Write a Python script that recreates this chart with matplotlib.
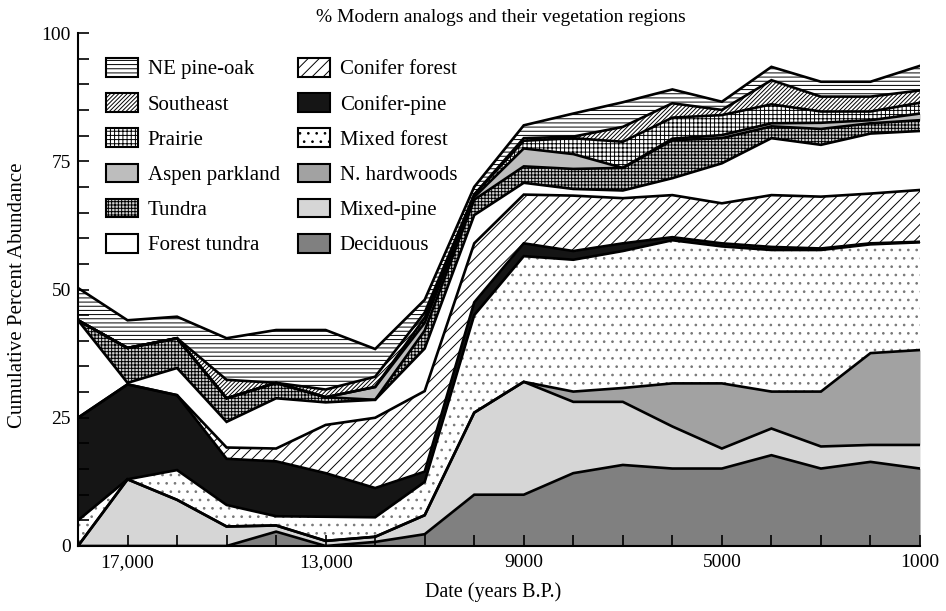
import numpy as np
import matplotlib.pyplot as plt
import matplotlib.patches as mpatches
from matplotlib.ticker import MultipleLocator, FixedLocator

plt.rcParams['font.family'] = ['Liberation Serif', 'DejaVu Serif']
plt.rcParams['hatch.linewidth'] = 0.7

# years B.P., one sample every 1000 years
years = [18000, 17000, 16000, 15000, 14000, 13000, 12000, 11000, 10000,
         9000, 8000, 7000, 6000, 5000, 4000, 3000, 2000, 1000]

# thickness of each band (percent), bottom to top
deciduous     = [0, 0, 0, 0, 2.8, 0, 0.8, 2.3, 10, 10, 14.2, 15.8, 15.1, 15.1, 17.7, 15.1, 16.4, 15.1]
mixed_pine    = [0, 13, 9, 3.8, 1.2, 1, 1, 3.7, 16, 22, 13.9, 12.3, 8.2, 3.9, 5.2, 4.3, 3.3, 4.6]
n_hardwoods   = [0, 0, 0, 0, 0, 0, 0, 0, 0, 0, 2, 2.7, 8.4, 12.7, 7.2, 10.7, 17.9, 18.5]
mixed_forest  = [5, 0, 5.8, 4.2, 1.8, 4.7, 3.8, 6.5, 19, 24.5, 25.7, 26.7, 27.9, 26.7, 27.6, 27.6, 21.2, 21]
conifer_pine  = [20, 18.5, 14.6, 9, 10.7, 8.5, 5.7, 2, 2.5, 2.5, 1.7, 1.5, 0.6, 0.6, 0.6, 0.3, 0.2, 0.1]
conifer_for   = [0, 0, 0, 2.2, 2.5, 9.4, 13.7, 15.7, 11.5, 9.5, 10.8, 8.8, 8.2, 7.8, 10.1, 10.1, 9.7, 10.1]
forest_tundra = [19, 0.3, 5.3, 5, 9.8, 4.4, 3.5, 8.3, 5.5, 2.3, 1.3, 1.5, 3.3, 7.8, 11.1, 10.1, 11.7, 11.5]
tundra        = [0, 6.8, 5.8, 4.6, 3, 1, 0, 3.5, 3, 3.2, 3.9, 4.4, 7.4, 4.9, 2.3, 3.1, 2, 2.1]
aspen         = [0, 0, 0, 0, 0, 0, 2.5, 1.5, 0.5, 3.5, 2.9, 0, 0.3, 0.6, 0.6, 1.2, 0.6, 1.3]
prairie       = [0, 0, 0, 0, 0, 0, 0, 1, 0.5, 1.5, 3.1, 5.1, 4.1, 3.9, 3.7, 2.2, 1.7, 2.1]
southeast     = [0, 0, 0, 3.6, 0, 1.5, 2, 1, 0, 0.5, 0.3, 2.9, 2.8, 1, 4.7, 2.9, 2.9, 2.4]
ne_pine_oak   = [6.3, 5.4, 4.2, 8.1, 10.3, 11.6, 5.4, 2.5, 1.5, 2.5, 4.5, 4.8, 2.7, 1.6, 2.6, 2.9, 2.9, 4.8]

# name, values, face colour, hatch, hatch colour
layers = [
    ("Deciduous", deciduous, "#808080", None, "black"),
    ("Mixed-pine", mixed_pine, "#d6d6d6", None, "black"),
    ("N. hardwoods", n_hardwoods, "#a2a2a2", None, "black"),
    ("Mixed forest", mixed_forest, "white", "..", "#777777"),
    ("Conifer-pine", conifer_pine, "#151515", None, "black"),
    ("Conifer forest", conifer_for, "white", "///", "black"),
    ("Forest tundra", forest_tundra, "white", None, "black"),
    ("Tundra", tundra, "#cfcfcf", "+++++", "black"),
    ("Aspen parkland", aspen, "#bdbdbd", None, "black"),
    ("Prairie", prairie, "white", "++++", "black"),
    ("Southeast", southeast, "white", "////////", "black"),
    ("NE pine-oak", ne_pine_oak, "white", "----", "black"),
]

fig = plt.figure(figsize=(9.46, 6.11), dpi=100)
ax = fig.add_axes([78 / 946, 1 - 546 / 611, 842 / 946, 513 / 611])

x = np.array(years)
base = np.zeros(len(years))
tops = []
for name, vals, fc, hatch, hc in layers:
    top = base + np.array(vals)
    ax.fill_between(x, base, top, facecolor=fc, hatch=hatch,
                    edgecolor=hc, linewidth=0)
    tops.append(top)
    base = top
for top in tops:
    ax.plot(x, top, color="black", lw=1.9, solid_joinstyle="miter")

ax.set_xlim(18000, 1000)
ax.set_ylim(0, 100)
ax.xaxis.set_major_locator(FixedLocator([17000, 13000, 9000, 5000, 1000]))
ax.set_xticklabels(["17,000", "13,000", "9000", "5000", "1000"])
ax.xaxis.set_minor_locator(MultipleLocator(1000))
ax.yaxis.set_major_locator(FixedLocator([0, 25, 50, 75, 100]))
ax.yaxis.set_minor_locator(MultipleLocator(5))
ax.tick_params(which="both", direction="in", length=8, width=1.2, labelsize=14)
ax.tick_params(axis="y", pad=5)
ax.tick_params(axis="x", pad=6)
for s in ["top", "right"]:
    ax.spines[s].set_visible(False)
for s in ["left", "bottom"]:
    ax.spines[s].set_linewidth(1.5)

# legend, two columns
handles = {}
for name, vals, fc, hatch, hc in layers:
    handles[name] = mpatches.Patch(facecolor=fc, hatch=hatch,
                                   edgecolor="black", linewidth=1.5, label=name)
col1 = ["NE pine-oak", "Southeast", "Prairie", "Aspen parkland", "Tundra", "Forest tundra"]
col2 = ["Conifer forest", "Conifer-pine", "Mixed forest", "N. hardwoods", "Mixed-pine", "Deciduous"]
leg_kw = dict(loc="upper left", frameon=False, fontsize=15, handlelength=1.55,
              handleheight=1.0, labelspacing=0.66, handletextpad=0.45,
              borderpad=0, borderaxespad=0, bbox_transform=fig.transFigure)
leg1 = ax.legend([handles[n] for n in col1], col1,
                 bbox_to_anchor=(106 / 946, 1 - 58 / 611), **leg_kw)
ax.add_artist(leg1)
ax.legend([handles[n] for n in col2], col2,
          bbox_to_anchor=(298 / 946, 1 - 58 / 611), **leg_kw)

fig.text(0.529, 0.972, "% Modern analogs and their vegetation regions",
         ha="center", va="center", fontsize=14)
fig.text(0.019, 0.517, "Cumulative Percent Abundance", rotation=90,
         ha="center", va="center", fontsize=15)
fig.text(0.521, 0.031, "Date (years B.P.)", ha="center", va="center", fontsize=14.5)

fig.savefig("out.png", dpi=100)
